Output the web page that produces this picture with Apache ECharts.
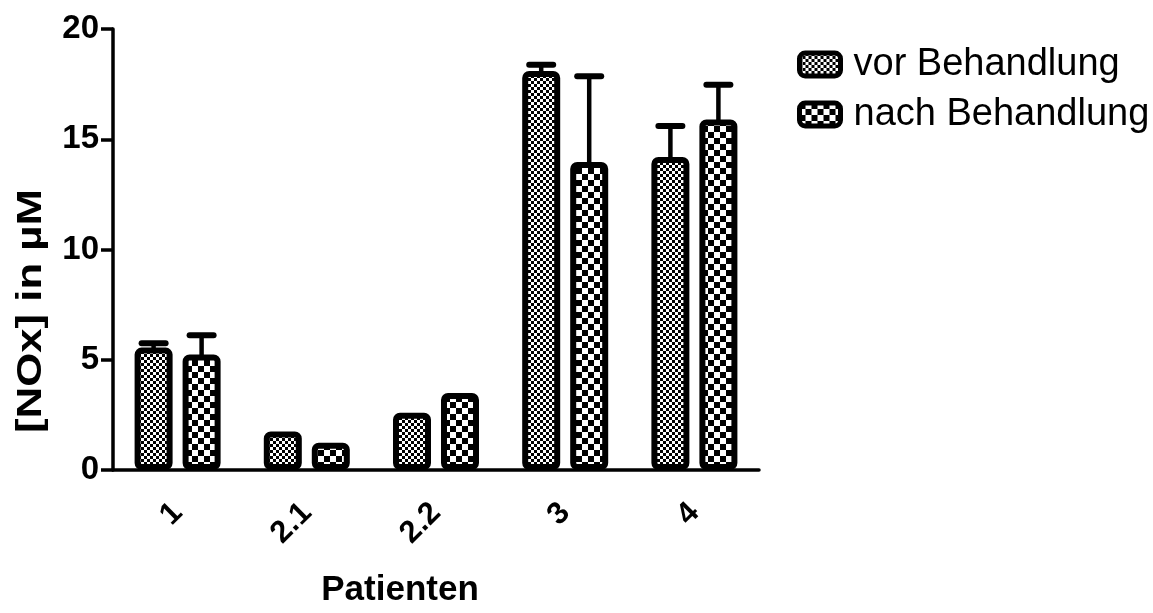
<!DOCTYPE html>
<html>
<head>
<meta charset="utf-8">
<script src="https://cdn.jsdelivr.net/npm/echarts@6/dist/echarts.min.js"></script>
<style>
  html, body { margin: 0; padding: 0; background: #fff; }
  #chart { width: 1153px; height: 613px; }
</style>
</head>
<body>
<div id="chart"></div>
<script>
// Patients and NOx concentrations (µM): mean and upper error
const categories = ['1', '2.1', '2.2', '3', '4'];
const vorValues = [5.55, 1.75, 2.6, 18.1, 14.2];
const vorErrors = [0.2, 0, 0, 0.28, 1.4];
const nachValues = [5.24, 1.24, 3.49, 13.97, 15.9];
const nachErrors = [0.87, 0, 0, 3.89, 1.57];
const yTicks = { min: 0, max: 20, interval: 5 };
const yTitle = '[NOx] in µM';
const xTitle = 'Patienten';

const FONT = '"Liberation Sans", Arial, sans-serif';
const BAR_W = 38;
const BAR_GAP_PX = 10;

// Checkerboard fill with a given cell size
function checker(cell) {
  const c = document.createElement('canvas');
  c.width = cell * 2; c.height = cell * 2;
  const g = c.getContext('2d');
  g.fillStyle = '#fff'; g.fillRect(0, 0, c.width, c.height);
  g.fillStyle = '#000';
  g.fillRect(0, 0, cell, cell);
  g.fillRect(cell, cell, cell, cell);
  return { image: c, repeat: 'repeat' };
}

const fineFill = checker(3);
const coarseFill = checker(6);

// Upper error whisker with a rounded cap, placed over its bar in the group
function errorSeries(values, errors, side) {
  return {
    type: 'custom',
    z: 3,
    silent: true,
    data: values.map((v, i) => [i, v, errors[i]]),
    renderItem: function (params, api) {
      const e = api.value(2);
      if (!e) return null;
      const idx = api.value(0);
      const v = api.value(1);
      const base = api.coord([idx, v]);
      const top = api.coord([idx, v + e]);
      const x = base[0] + side * (BAR_W + BAR_GAP_PX) / 2;
      return {
        type: 'group',
        children: [
          { type: 'line', shape: { x1: x, y1: base[1] + 2, x2: x, y2: top[1] },
            style: { stroke: '#000', lineWidth: 4.5 } },
          { type: 'line', shape: { x1: x - 12, y1: top[1], x2: x + 12, y2: top[1] },
            style: { stroke: '#000', lineWidth: 6, lineCap: 'round' } }
        ]
      };
    }
  };
}

const chart = echarts.init(document.getElementById('chart'), null, { renderer: 'canvas' });
chart.setOption({
  animation: false,
  backgroundColor: '#fff',
  grid: { left: 113, right: 394, top: 29, bottom: 126, containLabel: false },
  legend: {
    orient: 'vertical',
    left: 792,
    top: 39,
    itemWidth: 41,
    itemHeight: 23,
    itemGap: 9,
    icon: 'roundRect',
    itemStyle: { borderColor: '#000', borderWidth: 5 },
    textStyle: { fontFamily: FONT, fontSize: 38, lineHeight: 41, color: '#000', padding: [0, 0, 0, 8] },
    data: ['vor Behandlung', 'nach Behandlung']
  },
  graphic: [{
    type: 'text',
    x: 31,
    y: 311,
    rotation: Math.PI / 2,
    scaleX: 1.25,
    silent: true,
    style: {
      text: yTitle,
      fontFamily: FONT,
      fontWeight: 'bold',
      fontSize: 35,
      fill: '#000',
      align: 'center',
      verticalAlign: 'middle'
    }
  }],
  xAxis: {
    type: 'category',
    data: categories,
    name: xTitle,
    nameLocation: 'middle',
    nameGap: 103,
    nameTextStyle: { fontFamily: FONT, fontWeight: 'bold', fontSize: 35, color: '#000', padding: [0, 72, 0, 0] },
    axisLine: { lineStyle: { color: '#000', width: 3.5 } },
    axisTick: { alignWithLabel: true, length: 12, lineStyle: { color: '#000', width: 3.5 } },
    axisLabel: { rotate: 45, margin: 38, fontFamily: FONT, fontWeight: 'bold', fontSize: 31, color: '#000' }
  },
  yAxis: {
    type: 'value',
    min: yTicks.min,
    max: yTicks.max,
    interval: yTicks.interval,
    splitLine: { show: false },
    axisLine: { show: true, lineStyle: { color: '#000', width: 3.5 } },
    axisTick: { show: true, length: 12, lineStyle: { color: '#000', width: 3.5 } },
    axisLabel: { margin: 14, fontFamily: FONT, fontWeight: 'bold', fontSize: 33, color: '#000' }
  },
  series: [
    {
      name: 'vor Behandlung',
      type: 'bar',
      data: vorValues,
      barWidth: BAR_W,
      barGap: (BAR_GAP_PX / BAR_W * 100) + '%',
      z: 2,
      itemStyle: { color: fineFill, borderColor: '#000', borderWidth: 6, borderRadius: 4 }
    },
    {
      name: 'nach Behandlung',
      type: 'bar',
      data: nachValues,
      barWidth: BAR_W,
      barGap: (BAR_GAP_PX / BAR_W * 100) + '%',
      z: 2,
      itemStyle: { color: coarseFill, borderColor: '#000', borderWidth: 6, borderRadius: 4 }
    },
    errorSeries(vorValues, vorErrors, -1),
    errorSeries(nachValues, nachErrors, 1)
  ]
});
</script>
</body>
</html>
